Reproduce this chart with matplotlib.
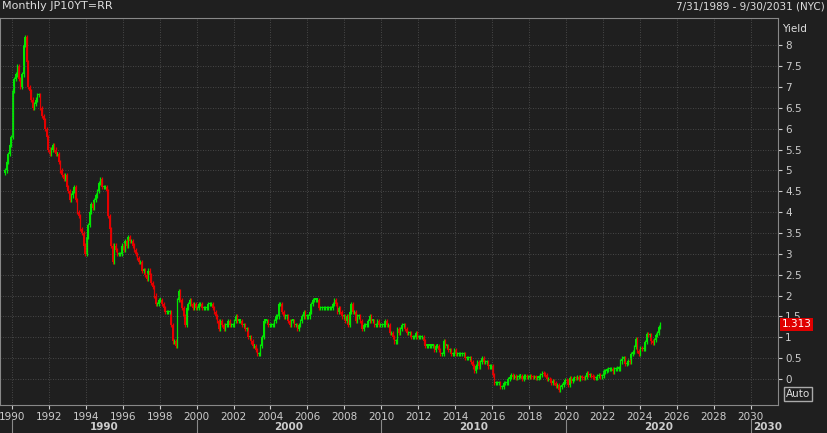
import numpy as np
import matplotlib
matplotlib.use("Agg")
import matplotlib.pyplot as plt
import matplotlib.transforms as mtrans

# monthly closes of the JGB 10y yield, Aug 1989 .. Feb 2025
start_year, start_month = 1989, 8
closes = [
    5.0, 5.2, 5.4, 5.6, 5.8,
    6.9, 7.2, 7.3, 7.5, 7.2, 7.0, 7.3, 8.0, 8.2, 7.6, 7.0, 6.9,
    6.7, 6.5, 6.6, 6.7, 6.8, 6.8, 6.5, 6.3, 6.2, 6.0, 5.8, 5.5,
    5.4, 5.5, 5.6, 5.5, 5.4, 5.4, 5.2, 5.0, 4.9, 4.8, 4.9, 4.6,
    4.5, 4.3, 4.4, 4.5, 4.6, 4.3, 4.0, 3.9, 3.6, 3.5, 3.2, 3.0,
    3.4, 3.7, 4.0, 4.2, 4.1, 4.3, 4.4, 4.5, 4.7, 4.8, 4.6, 4.6,
    4.6, 4.5, 3.9, 3.6, 3.2, 2.8, 3.2, 3.1, 3.0, 3.0, 3.0, 3.2,
    3.1, 3.3, 3.2, 3.4, 3.3, 3.3, 3.2, 3.1, 3.0, 2.9, 2.8, 2.8,
    2.6, 2.6, 2.5, 2.4, 2.6, 2.5, 2.3, 2.2, 2.0, 1.8, 1.8, 1.9,
    1.9, 1.8, 1.7, 1.6, 1.6, 1.6, 1.6, 1.3, 0.9, 0.9, 0.8, 1.9,
    2.1, 1.9, 1.7, 1.5, 1.3, 1.7, 1.8, 1.9, 1.8, 1.7, 1.8, 1.7,
    1.7, 1.8, 1.8, 1.7, 1.7, 1.7, 1.7, 1.8, 1.8, 1.8, 1.7, 1.6,
    1.5, 1.4, 1.2, 1.4, 1.3, 1.2, 1.3, 1.3, 1.4, 1.3, 1.3, 1.3,
    1.4, 1.5, 1.4, 1.4, 1.4, 1.3, 1.3, 1.2, 1.2, 1.0, 1.0, 0.9,
    0.8, 0.8, 0.7, 0.6, 0.6, 0.8, 1.0, 1.4, 1.4, 1.4, 1.3, 1.3,
    1.3, 1.3, 1.4, 1.5, 1.5, 1.8, 1.8, 1.6, 1.5, 1.5, 1.5, 1.4,
    1.3, 1.4, 1.4, 1.3, 1.3, 1.2, 1.3, 1.4, 1.5, 1.6, 1.5, 1.5,
    1.5, 1.6, 1.8, 1.9, 1.9, 1.9, 1.9, 1.7, 1.7, 1.7, 1.7, 1.7,
    1.7, 1.7, 1.7, 1.7, 1.8, 1.9, 1.8, 1.6, 1.7, 1.6, 1.5, 1.5,
    1.4, 1.5, 1.3, 1.6, 1.8, 1.6, 1.6, 1.4, 1.5, 1.5, 1.4, 1.2,
    1.3, 1.3, 1.3, 1.4, 1.5, 1.4, 1.4, 1.3, 1.3, 1.4, 1.3, 1.3,
    1.3, 1.3, 1.4, 1.3, 1.3, 1.1, 1.1, 1.0, 0.9, 0.9, 1.2, 1.1,
    1.2, 1.3, 1.3, 1.2, 1.1, 1.1, 1.1, 1.0, 1.0, 1.0, 1.1, 1.0,
    1.0, 1.0, 1.0, 0.9, 0.8, 0.8, 0.8, 0.8, 0.8, 0.8, 0.7, 0.8,
    0.8, 0.7, 0.6, 0.6, 0.9, 0.8, 0.8, 0.7, 0.7, 0.6, 0.6, 0.7,
    0.6, 0.6, 0.6, 0.6, 0.6, 0.6, 0.5, 0.5, 0.5, 0.5, 0.4, 0.3,
    0.2, 0.3, 0.4, 0.3, 0.4, 0.5, 0.4, 0.4, 0.4, 0.3, 0.3, 0.3,
    0.1, -0.1, -0.1, -0.1, -0.1, -0.2, -0.2, -0.1, -0.1, -0.1, 0.0, 0.05,
    0.1, 0.05, 0.07, 0.02, 0.05, 0.08, 0.08, 0.01, 0.06, 0.07, 0.04, 0.05,
    0.08, 0.05, 0.04, 0.05, 0.03, 0.03, 0.05, 0.1, 0.13, 0.12, 0.09, 0.0,
    0.0, -0.03, -0.09, -0.05, -0.09, -0.16, -0.15, -0.27, -0.2, -0.14, -0.07, -0.02,
    -0.06, -0.15, 0.02, -0.04, 0.0, 0.03, 0.02, 0.05, 0.01, 0.04, 0.03, 0.02,
    0.05, 0.15, 0.09, 0.09, 0.08, 0.05, 0.02, 0.02, 0.07, 0.1, 0.06, 0.07,
    0.18, 0.2, 0.22, 0.23, 0.23, 0.23, 0.18, 0.23, 0.24, 0.25, 0.25, 0.42,
    0.49, 0.5, 0.35, 0.39, 0.43, 0.4, 0.6, 0.65, 0.77, 0.95, 0.67, 0.61,
    0.73, 0.71, 0.73, 0.88, 1.07, 1.05, 1.05, 0.9, 0.86, 0.94, 1.05, 1.1,
    1.24, 1.313,
]
first_open = 4.95
year_ticks = list(range(1990, 2031, 2))
decade_ticks = [1990, 2000, 2010, 2020, 2030]
y_ticks = [0, 0.5, 1, 1.5, 2, 2.5, 3, 3.5, 4, 4.5, 5, 5.5, 6, 6.5, 7, 7.5, 8]

bg = "#1f1f1f"
fig = plt.figure(figsize=(8.27, 4.33), dpi=100, facecolor=bg)
ax = fig.add_axes([0.0, 0.065, 0.941, 0.893], facecolor=bg)

n = len(closes)
t = start_year + (start_month - 1) / 12 + np.arange(n) / 12
opens = [first_open] + closes[:-1]
for x, o, c in zip(t, opens, closes):
    col = "#00e600" if c >= o else "#e60000"
    lo, hi = min(o, c), max(o, c)
    ax.vlines(x + 0.04, lo - 0.05, hi + 0.05, color=col, lw=0.9)
    ax.bar(x + 0.04, max(hi - lo, 0.03), bottom=lo, width=0.085, color=col, lw=0)

ax.set_xlim(1989.35, 2031.5)
ax.set_ylim(-0.62, 8.65)
ax.grid(True, color="#555555", ls=(0, (1, 2)), lw=0.6)
ax.set_xticks(year_ticks)
ax.set_xticklabels([str(y) for y in year_ticks])
ax.yaxis.tick_right()
ax.set_yticks(y_ticks)
ax.set_yticklabels([("%g" % v) for v in y_ticks])
ax.tick_params(colors="#cccccc", labelsize=7.5, length=3, pad=2)
for s in ax.spines.values():
    s.set_color("#888888")

tr = mtrans.blended_transform_factory(ax.transData, fig.transFigure)
for d in decade_ticks:
    ax.text(d + 5 if d < 2030 else d + 0.9, 0.003, str(d), transform=tr, color="#cccccc",
            fontsize=7.5, fontweight="bold", ha="center", va="bottom", clip_on=False)
    ax.plot([d, d], [0.0, 0.03], transform=tr, color="#888888", lw=0.8, clip_on=False)

fig.text(0.003, 0.985, "Monthly JP10YT=RR", color="#dddddd", fontsize=8, va="center")
fig.text(0.997, 0.985, "7/31/1989 - 9/30/2031 (NYC)", color="#dddddd", fontsize=7.5,
         va="center", ha="right")
ax.text(1.005, 0.985, "Yield", transform=ax.transAxes, color="#dddddd", fontsize=7.5, va="top")
ax.text(1.004, 1.313, "1.313", transform=ax.get_yaxis_transform(), color="white",
        fontsize=7.5, va="center", bbox=dict(fc="#e00000", ec="none", pad=1.2))
ax.text(1.01, 0.015, "Auto", transform=ax.transAxes, color="#dddddd", fontsize=7.5,
        va="bottom", bbox=dict(fc=bg, ec="#aaaaaa", pad=1.5))

fig.savefig("out.png", dpi=100, facecolor=bg)
